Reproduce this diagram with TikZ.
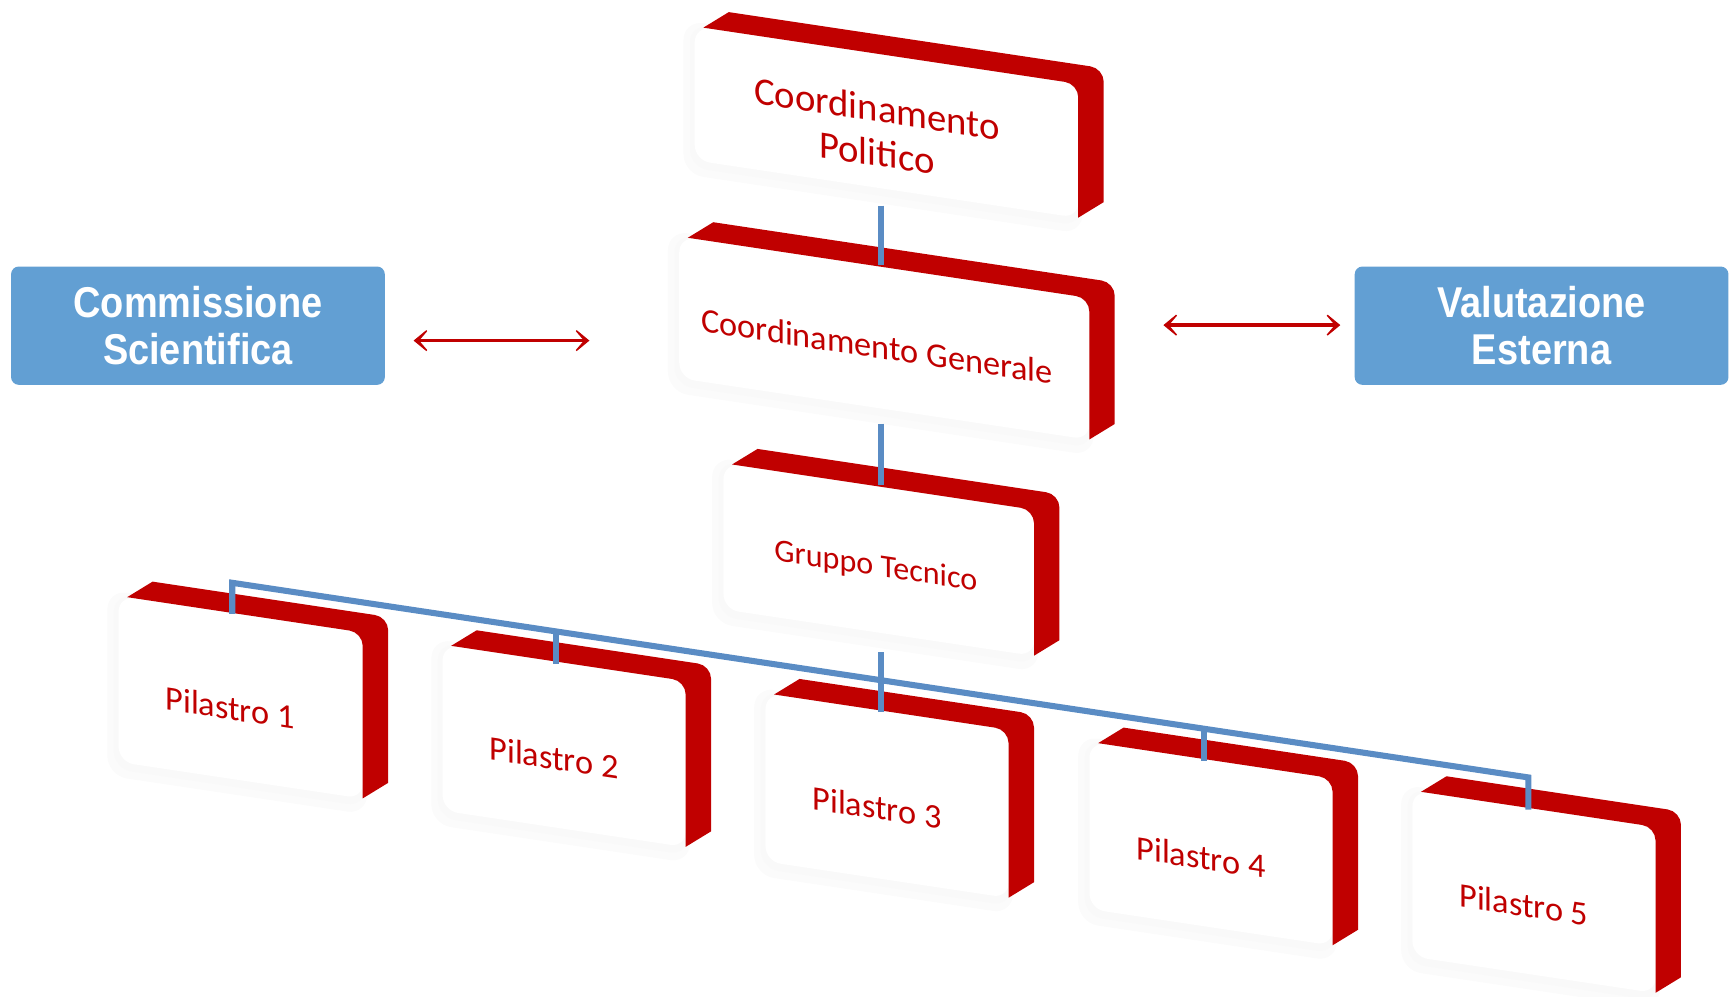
\documentclass[tikz,border=0pt]{standalone}
\usepackage{fontspec}
\newfontfamily\cardfont{Carlito}
\newfontfamily\boxfont[FakeStretch=0.88]{Liberation Sans}
\usetikzlibrary{arrows.meta}
\definecolor{cardred}{HTML}{C00000}
\definecolor{boxblue}{HTML}{629FD3}
\definecolor{linkblue}{HTML}{5A8CC4}
\tikzset{
 face/.style={fill=white, rounded corners=14pt, inner sep=0pt},
 cardtext/.style={text=cardred, align=center, inner sep=0pt},
 sidebox/.style={fill=boxblue, rounded corners=7pt, minimum width=338pt, minimum height=107pt, text=white, align=center, inner sep=0pt, font=\boxfont\bfseries\fontsize{39}{42}\selectfont},
 link/.style={draw=linkblue, line width=5.5pt},
 biarrow/.style={draw=cardred, line width=3pt, {Stealth[length=17pt,width=28pt,inset=12pt]}-{Stealth[length=17pt,width=28pt,inset=12pt]}},
}
% #1 name, #2 xl, #3 y of top-left, #4 width, #5 height
\newcommand{\orgcard}[5]{%
\begin{scope}[shift={(#2,#3)}, yslant=-0.15]
  \fill[black!1.5, rounded corners=18pt] (-18,-4) rectangle ({#4+4},{#5+14});
  \fill[black!2.5, rounded corners=16pt] (-12,-1) rectangle ({#4+2},{#5+7});
  \node[face, transform shape, minimum width={#4+8}, minimum height=#5, anchor=north west] (#1) at (-8,0) {};
  \fill[cardred] (0,0) -- ({#4-12},0) arc[start angle=-90,end angle=0,radius=12] -- (#4,#5) -- ++(23,-17.5) -- ({#4+23},{12-17.5}) arc[start angle=0,end angle=-90,radius=12] -- (23,-17.5) -- cycle;
\end{scope}}

\begin{document}
\begin{tikzpicture}[x=1pt,y=-1pt]
\useasboundingbox (0,0) rectangle (1568,901);

% cards
\orgcard{pol}{636}{25}{339}{121}
\orgcard{gen}{622}{215}{363}{128}
\orgcard{gt}{662}{420}{273}{132}
\orgcard{p1}{115}{540}{213}{150}
\orgcard{p2}{408}{584}{212}{150}
\orgcard{p3}{700}{628}{212}{152}
\orgcard{p4}{993}{672}{212}{151}
\orgcard{p5}{1285}{716}{212}{150}

% card texts
\node[cardtext, yslant=-0.15, font=\cardfont\fontsize{35}{40}\selectfont] (pol-t) at (793,118) {Coordinamento\\Politico};
\node[cardtext, yslant=-0.15, font=\cardfont\fontsize{31}{36}\selectfont] (gen-t) at (793,313) {Coordinamento Generale};
\node[cardtext, yslant=-0.15, font=\cardfont\fontsize{29}{34}\selectfont] (gt-t) at (792,513) {Gruppo Tecnico};
\node[cardtext, yslant=-0.15, font=\cardfont\fontsize{31}{36}\selectfont] (p1-t) at (208,640) {Pilastro 1};
\node[cardtext, yslant=-0.15, font=\cardfont\fontsize{31}{36}\selectfont] (p2-t) at (501,685) {Pilastro 2};
\node[cardtext, yslant=-0.15, font=\cardfont\fontsize{31}{36}\selectfont] (p3-t) at (793,730) {Pilastro 3};
\node[cardtext, yslant=-0.15, font=\cardfont\fontsize{31}{36}\selectfont] (p4-t) at (1086,775) {Pilastro 4};
\node[cardtext, yslant=-0.15, font=\cardfont\fontsize{31}{36}\selectfont] (p5-t) at (1378,818) {Pilastro 5};

% side boxes
\node[sidebox] (cs) at (179,294.5) {Commissione\\Scientifica};
\node[sidebox] (ve) at (1394,294.5) {Valutazione\\Esterna};

% arrows
\coordinate (csa) at (374,308);
\coordinate (gena) at (533,308);
\coordinate (genb) at (1052,294);
\coordinate (vea) at (1212,294);
\draw[biarrow] (csa) -- (gena);
\draw[biarrow] (genb) -- (vea);

% blue links
\coordinate (pol-out) at (797,186);
\coordinate (gen-in) at (797,240);
\coordinate (gen-out) at (797,383);
\coordinate (gt-in) at (797,439);
\coordinate (gt-out) at (797,590);
\coordinate (p1-in) at (210,555);
\coordinate (bus-l) at (210,527);
\coordinate (bus-r) at (1382,703);
\coordinate (p5-in) at (1382,732);
\coordinate (bus2) at (503,571);
\coordinate (p2-in) at (503,600);
\coordinate (p3-in) at (797,644);
\coordinate (bus4) at (1089,659);
\coordinate (p4-in) at (1089,688);
\draw[link] (pol-out) -- (gen-in);
\draw[link] (gen-out) -- (gt-in);
\draw[link, line join=miter] (p1-in) -- (bus-l) -- (bus-r) -- (p5-in);
\draw[link] (gt-out) -- (p3-in);
\draw[link] (bus2) -- (p2-in);
\draw[link] (bus4) -- (p4-in);
\end{tikzpicture}
\end{document}
